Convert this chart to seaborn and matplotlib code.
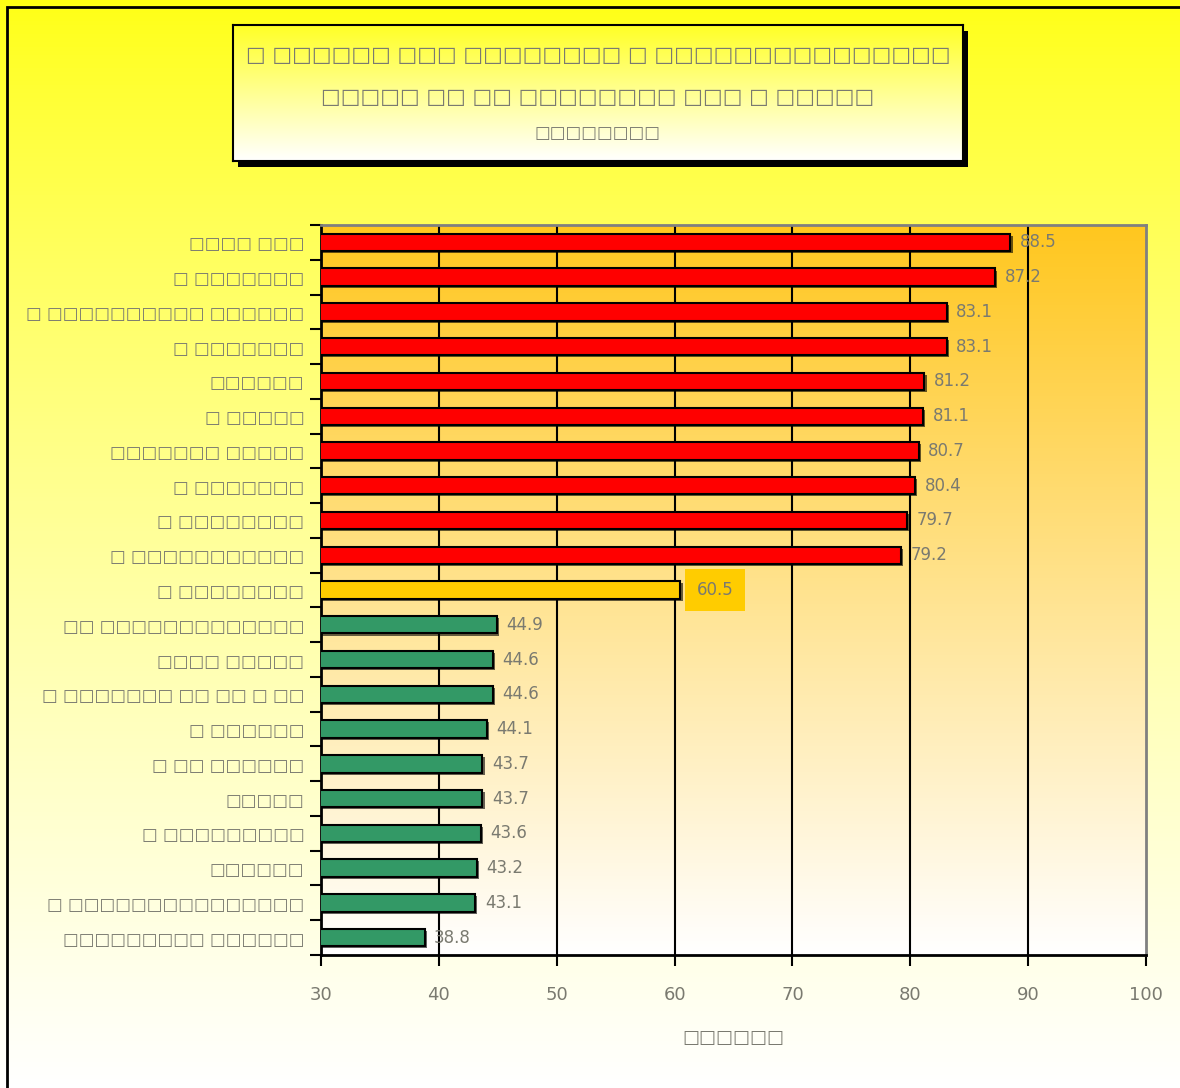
import numpy as np
import pandas as pd
import matplotlib
matplotlib.use("Agg")
import matplotlib.pyplot as plt
import matplotlib.patheffects as pe
from matplotlib.patches import Rectangle
import seaborn as sns

# ---- data (text in the reference is unreadable: glyphs render as empty boxes) ----
categories = [
    "□□□□ □□□", "□ □□□□□□□", "□ □□□□□□□□□□ □□□□□□", "□ □□□□□□□", "□□□□□□",
    "□ □□□□□", "□□□□□□□ □□□□□", "□ □□□□□□□", "□ □□□□□□□□", "□ □□□□□□□□□□□",
    "□ □□□□□□□□", "□□ □□□□□□□□□□□□□", "□□□□ □□□□□", "□ □□□□□□□ □□ □□ □ □□",
    "□ □□□□□□", "□ □□ □□□□□□", "□□□□□", "□ □□□□□□□□□", "□□□□□□",
    "□ □□□□□□□□□□□□□□□", "□□□□□□□□□ □□□□□□",
]
values = [88.5, 87.2, 83.1, 83.1, 81.2, 81.1, 80.7, 80.4, 79.7, 79.2,
          60.5, 44.9, 44.6, 44.6, 44.1, 43.7, 43.7, 43.6, 43.2, 43.1, 38.8]
groups = ["high"] * 10 + ["mid"] + ["low"] * 10
x_ticks = [30, 40, 50, 60, 70, 80, 90, 100]
title_lines = ["□ □□□□□□ □□□ □□□□□□□□ □ □□□□□□□□□□□□□□□",
               "□□□□□ □□ □□ □□□□□□□□ □□□ □ □□□□□",
               "□□□□□□□□"]
x_label = "□□□□□□"

group_colors = {"high": "#FF0000", "mid": "#FFCC00", "low": "#339966"}
text_color = "#7a7a70"

row_ids = [f"r{i:02d}" for i in range(len(categories))]
df = pd.DataFrame({"row": row_ids, "label": categories, "value": values, "group": groups})
palette = {r: group_colors[g] for r, g in zip(row_ids, groups)}

W, H = 1180, 1088
fig = plt.figure(figsize=(W / 100, H / 100), dpi=100)

# figure background gradient (yellow -> white)
bg = fig.add_axes([0, 0, 1, 1], zorder=-10)
grad = np.linspace(0, 1, 256)[:, None]
top = np.array([1.0, 1.0, 0.08])
bot = np.array([1.0, 1.0, 1.0])
img = top[None, None, :] * (1 - grad[..., None] ** 0.8) + bot[None, None, :] * (grad[..., None] ** 0.8)
bg.imshow(img, aspect="auto", extent=[0, 1, 0, 1])
bg.set_axis_off()
bg.add_patch(Rectangle((7 / W, -0.1), 1.2, 1 - 7 / H + 0.1, fill=False, lw=2,
                       edgecolor="black", transform=bg.transAxes))

# main axes
left, right, topp, bottom = 321 / W, 1146 / W, 225 / H, 955 / H
ax = fig.add_axes([left, 1 - bottom, right - left, bottom - topp])

# plot-area gradient
pg = np.linspace(0, 1, 256)[:, None]
c_top = np.array([1.0, 0.78, 0.12])
c_bot = np.array([1.0, 1.0, 1.0])
pimg = c_top[None, None, :] * (1 - pg[..., None]) + c_bot[None, None, :] * pg[..., None]
ax.imshow(pimg, aspect="auto", extent=[30, 100, 20.5, -0.5], zorder=0)

sns.barplot(data=df, y="row", x="value", hue="row", palette=palette,
            legend=False, orient="h", width=0.5, edgecolor="black",
            linewidth=1.5, saturation=1, errorbar=None, ax=ax, zorder=3)
for p in ax.patches:
    p.set_path_effects([pe.SimplePatchShadow(offset=(1.5, -1.5), shadow_rgbFace="black", alpha=0.6),
                        pe.Normal()])

ax.set_xlim(30, 100)
ax.set_ylim(20.5, -0.5)
ax.set_xticks(x_ticks)
ax.set_xticklabels([str(t) for t in x_ticks], fontsize=13, color=text_color)
for t in x_ticks[1:-1]:
    ax.axvline(t, color="black", lw=1.5, zorder=1)

ax.set_yticks(range(len(categories)))
ax.set_yticklabels(categories, fontsize=12, color=text_color)
ax.set_yticks(np.arange(-0.5, len(categories), 1), minor=True)
ax.tick_params(axis="y", which="major", length=0, pad=12)
ax.tick_params(axis="y", which="minor", length=8, width=1.5, direction="out")
ax.tick_params(axis="x", length=8, width=1.5, direction="out", pad=14)
ax.set_ylabel("")
ax.set_xlabel(x_label, fontsize=13, color=text_color, labelpad=18)

for s in ["left", "bottom"]:
    ax.spines[s].set_color("black")
    ax.spines[s].set_linewidth(2)
for s in ["top", "right"]:
    ax.spines[s].set_color("#808080")
    ax.spines[s].set_linewidth(2)

for i, (v, g) in enumerate(zip(values, groups)):
    if g == "mid":
        ax.text(v + 1.4, i, f"{v:.1f}", va="center", ha="left", fontsize=12,
                color=text_color, zorder=5,
                bbox=dict(boxstyle="square,pad=0.7", facecolor="#FFCC00", edgecolor="none"))
    else:
        ax.text(v + 0.8, i, f"{v:.1f}", va="center", ha="left", fontsize=12,
                color=text_color, zorder=5)

# title box with shadow
tx0, tx1, ty0, ty1 = 233 / W, 963 / W, 25 / H, 161 / H
fig.patches.append(Rectangle((tx0 + 5 / W, 1 - ty1 - 6 / H), tx1 - tx0, ty1 - ty0,
                             transform=fig.transFigure, facecolor="black",
                             edgecolor="none", zorder=1))
tax = fig.add_axes([tx0, 1 - ty1, tx1 - tx0, ty1 - ty0], zorder=5)
tg = np.linspace(0, 1, 256)[:, None]
t_top = np.array([1.0, 1.0, 0.15])
timg = t_top[None, None, :] * (1 - tg[..., None]) + np.ones(3)[None, None, :] * tg[..., None]
tax.imshow(timg, aspect="auto", extent=[0, 1, 0, 1])
tax.set_xticks([])
tax.set_yticks([])
for s in tax.spines.values():
    s.set_color("black")
    s.set_linewidth(1.5)
tax.text(0.5, 1 - 30 / 136, title_lines[0], ha="center", va="center", fontsize=15, color=text_color, transform=tax.transAxes)
tax.text(0.5, 1 - 72 / 136, title_lines[1], ha="center", va="center", fontsize=15, color=text_color, transform=tax.transAxes)
tax.text(0.5, 1 - 108 / 136, title_lines[2], ha="center", va="center", fontsize=12, color=text_color, transform=tax.transAxes)

fig.savefig("out.png", dpi=100)
